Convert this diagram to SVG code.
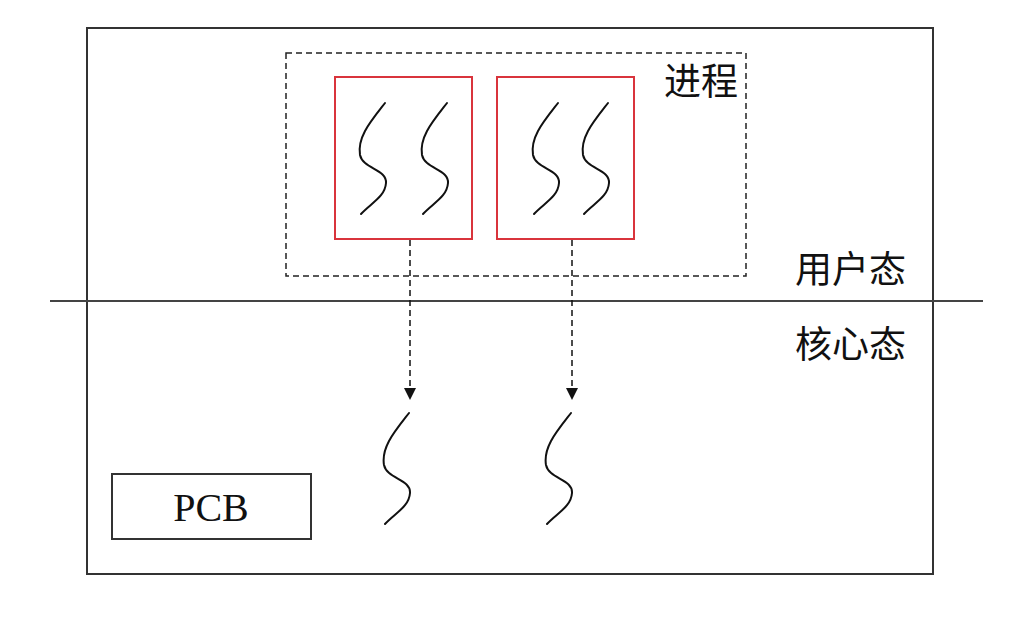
<svg xmlns="http://www.w3.org/2000/svg" width="1024" height="626" viewBox="0 0 1024 626">
<style>
.frame{fill:none;stroke:#333;stroke-width:2}
.proc{fill:none;stroke:#222;stroke-width:1.5;stroke-dasharray:6 4}
.thr{fill:#fff;stroke:#d9343c;stroke-width:2}
.wave{fill:none;stroke:#111;stroke-width:2;stroke-linecap:round}
.conn{fill:none;stroke:#111;stroke-width:1.5;stroke-dasharray:6 4}
.cjk{font-family:"Noto Sans CJK SC",sans-serif;font-size:37px;fill:#111}
.lat{font-family:"Liberation Serif",serif;font-size:40px;fill:#111}
</style>
<defs>
<marker id="ah" viewBox="0 0 10 10" refX="10" refY="5" markerWidth="8" markerHeight="9" markerUnits="strokeWidth" orient="auto">
<path d="M0,0 L10,5 L0,10 Z" fill="#111"/>
</marker>
<path id="w" d="M0,0 C-14,18 -28,34 -25,52 C-22,66 2,66 1,80 C0,94 -14,100 -24,111"/>
</defs>
<rect x="87" y="28" width="846" height="546" class="frame"/>
<line x1="50" y1="301" x2="983" y2="301" stroke="#444" stroke-width="2"/>
<g id="process">
<rect x="286" y="53" width="460" height="223" class="proc"/>
<text x="664" y="95" class="cjk">进程</text>
</g>
<g id="thread1">
<rect x="335" y="77" width="137" height="162" class="thr"/>
<use href="#w" x="385" y="103" class="wave"/>
<use href="#w" x="447" y="103" class="wave"/>
</g>
<g id="thread2">
<rect x="497" y="77" width="137" height="162" class="thr"/>
<use href="#w" x="558" y="103" class="wave"/>
<use href="#w" x="608" y="103" class="wave"/>
</g>
<g id="kthread1"><use href="#w" x="409" y="413" class="wave"/></g>
<g id="kthread2"><use href="#w" x="571" y="413" class="wave"/></g>
<g id="user"><text x="795" y="283" class="cjk">用户态</text></g>
<g id="kernel"><text x="795" y="358" class="cjk">核心态</text></g>
<g id="pcb">
<rect x="112" y="474" width="199" height="65" fill="#fff" stroke="#333" stroke-width="2"/>
<text x="211" y="521" text-anchor="middle" class="lat">PCB</text>
</g>
<g id="connectors">
<line x1="410" y1="240" x2="410" y2="400" class="conn" marker-end="url(#ah)"/>
<line x1="572" y1="240" x2="572" y2="400" class="conn" marker-end="url(#ah)"/>
</g>
</svg>
